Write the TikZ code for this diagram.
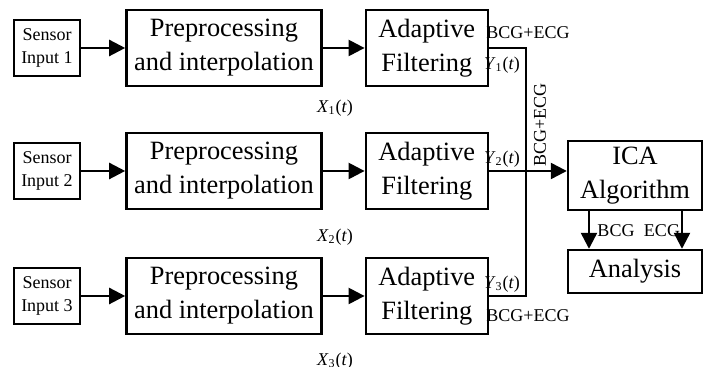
\documentclass[tikz,border=0pt]{standalone}
\usepackage{fontspec}
\setmainfont{Liberation Serif}
\usetikzlibrary{positioning}
\usetikzlibrary {arrows.meta}

\tikzset{
    blk/.style={draw, line width=1.2pt, align=center, inner sep=0pt,
        font=\fontsize{13.2}{17}\selectfont},
    srcblk/.style={blk, minimum width=33pt, minimum height=28pt,
        font=\fontsize{9}{11.5}\selectfont},
    preblk/.style={blk, minimum width=97.5pt, minimum height=38pt},
    filtblk/.style={blk, minimum width=61pt, minimum height=38pt},
    lbl/.style={inner sep=0pt, font=\fontsize{9}{11}\selectfont},
    sig/.style={line width=1.2pt, -{Triangle[length=8pt,width=8pt]}},
    wire/.style={line width=1.2pt},
}
\newcommand{\sigx}[2]{\textit{#1}\textsubscript{#2}(\textit{t})}

\begin{document}
\begin{tikzpicture}[x=0.5pt, y=-0.5pt]
    \useasboundingbox (0,0) rectangle (709,367);
    %% row 1
    \node[srcblk] (s1) at (47,48) {Sensor\\Input 1};
    \node[preblk, right = 22pt of s1] (p1) {Preprocessing\\and interpolation};
    \node[filtblk, right = 21pt of p1] (a1) {Adaptive\\Filtering};
    %% row 2
    \node[srcblk] (s2) at (47,171) {Sensor\\Input 2};
    \node[preblk, right = 22pt of s2] (p2) {Preprocessing\\and interpolation};
    \node[filtblk, right = 21pt of p2] (a2) {Adaptive\\Filtering};
    %% row 3
    \node[srcblk] (s3) at (47,296) {Sensor\\Input 3};
    \node[preblk, right = 22pt of s3] (p3) {Preprocessing\\and interpolation};
    \node[filtblk, right = 21pt of p3] (a3) {Adaptive\\Filtering};
    % ICA and analysis
    \node[blk, minimum width=67pt, minimum height=34.5pt] (ica) at (635,175.5) {ICA\\Algorithm};
    \node[blk, minimum width=67pt, minimum height=21.5pt] (ana) at (635,271.5) {Analysis};

    \draw[sig] (s1) -- (p1);
    \draw[sig] (p1) -- (a1);
    \draw[sig] (s2) -- (p2);
    \draw[sig] (p2) -- (a2);
    \draw[sig] (s3) -- (p3);
    \draw[sig] (p3) -- (a3);

    % bus joining the three filter outputs
    \coordinate (bus1) at (526,48);
    \coordinate (bus3) at (526,296);
    \draw[wire] (a1.east) -- (bus1) -- (bus3) -- (a3.east);
    \draw[sig] (a2.east) -- (a2.east -| ica.west);

    % separated signals
    \coordinate (bcg) at (589,210);
    \coordinate (ecg) at (682,210);
    \draw[sig] (bcg) -- (bcg |- ana.north);
    \draw[sig] (ecg) -- (ecg |- ana.north);

    % labels
    \node[lbl] (x1) at (335,108) {\sigx{X}{1}};
    \node[lbl] (x2) at (335,237) {\sigx{X}{2}};
    \node[lbl] (x3) at (335,361) {\sigx{X}{3}};
    \node[lbl] (y1) at (502,65) {\sigx{Y}{1}};
    \node[lbl] (y2) at (502,159) {\sigx{Y}{2}};
    \node[lbl] (y3) at (502,284) {\sigx{Y}{3}};
    \node[lbl] (mix1) at (528,33) {BCG+ECG};
    \node[lbl] (mix3) at (528,316) {BCG+ECG};
    \node[lbl, rotate=90] (mix2) at (540,125) {BCG+ECG};
    \node[lbl] (bcgtxt) at (616,231) {BCG};
    \node[lbl] (ecgtxt) at (662,231) {ECG};
\end{tikzpicture}
\end{document}
